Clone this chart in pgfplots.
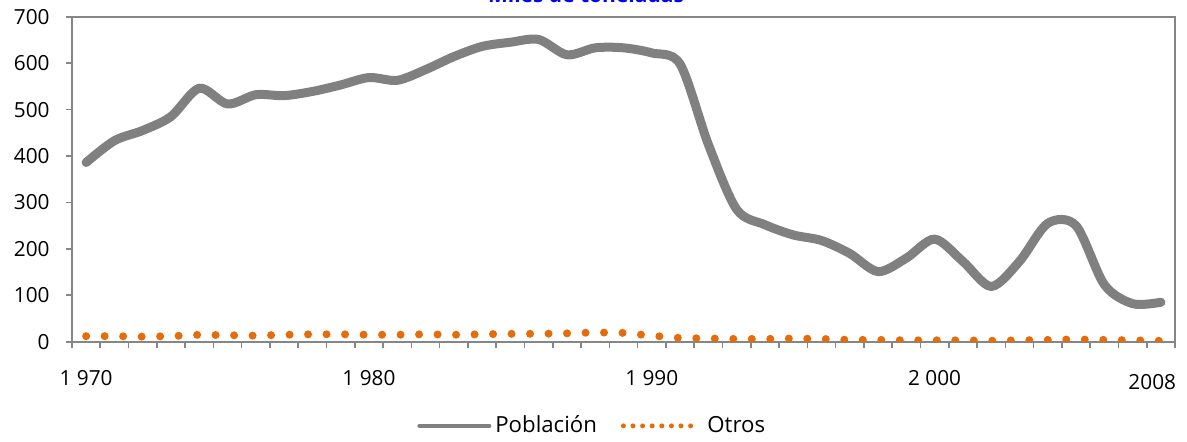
\documentclass[border=0pt]{standalone}
\usepackage{pgfplots}
\pgfplotsset{compat=1.18}
\usepackage{fontspec}
\setmainfont{Open Sans}
\definecolor{pobgray}{HTML}{808080}
\definecolor{framegray}{HTML}{868686}
\definecolor{otrosorange}{HTML}{E46C0A}
\begin{document}
\begin{tikzpicture}
\begin{axis}[
  at={(36pt,49.65pt)}, anchor=south west,
  scale only axis, width=551.5pt, height=162.5pt,
  xmin=1969.5, xmax=2008.5, ymin=0, ymax=700,
  clip mode=individual,
  axis line style={framegray, line width=0.8pt},
  every tick/.style={framegray, line width=0.8pt},
  tick align=outside,
  xtick pos=bottom, ytick pos=left,
  xtick={1970,1980,1990,2000},
  xticklabels={1 970,1 980,1 990,2 000},
  major x tick style={draw=none},
  minor xtick={1969.5,1970.5,1971.5,1972.5,1973.5,1974.5,1975.5,1976.5,1977.5,1978.5,1979.5,1980.5,1981.5,1982.5,1983.5,1984.5,1985.5,1986.5,1987.5,1988.5,1989.5,1990.5,1991.5,1992.5,1993.5,1994.5,1995.5,1996.5,1997.5,1998.5,1999.5,2000.5,2001.5,2002.5,2003.5,2004.5,2005.5,2006.5,2007.5,2008.5},
  minor tick length=3.3pt,
  major tick length=3pt,
  ytick={0,100,200,300,400,500,600,700},
  yticklabels={0,100,200,300,400,500,600,700},
  xticklabel style={font=\fontsize{10.4}{12}\selectfont, anchor=center, inner sep=0pt, yshift=-15pt},
  yticklabel style={font=\fontsize{10.4}{12}\selectfont, anchor=east, inner sep=0pt, xshift=-8pt},
  legend style={at={(axis description cs:0.4726,-0.259)}, anchor=center, draw=none, fill=none,
    legend columns=2, font=\fontsize{11.1}{13}\selectfont,
    /tikz/every even column/.append style={column sep=10pt}},
  legend cell align=left,
]
\addplot[pobgray, line width=4.5pt, smooth, line cap=round, line join=round,
  legend image code/.code={\draw[pobgray, line width=2pt, line cap=round] (0pt,0pt) -- (35pt,0pt);}]
coordinates {
(1970,386) (1971,433) (1972,455) (1973,485) (1974,546) (1975,512) (1976,532) (1977,530)
(1978,539) (1979,553) (1980,569) (1981,563) (1982,586) (1983,614) (1984,636) (1985,645)
(1986,651) (1987,618) (1988,633) (1989,633) (1990,622) (1991,598) (1992,425) (1993,285)
(1994,252) (1995,230) (1996,218) (1997,190) (1998,151) (1999,180) (2000,221) (2001,173)
(2002,119) (2003,173) (2004,255) (2005,250) (2006,123) (2007,82) (2008,85)
};
\addlegendentry{Población}
\addplot[otrosorange, line width=4pt, line cap=round, dash pattern=on 0pt off 9.25pt,
  legend image code/.code={\draw[otrosorange, line width=2.5pt, line cap=round, dash pattern=on 0pt off 4.8pt] (0pt,0pt) -- (34pt,0pt); \path (38pt,0pt);}]
coordinates {
(1970,12) (1971,12) (1972,11) (1973,12) (1974,15) (1975,14) (1976,13) (1977,15)
(1978,16) (1979,16) (1980,15) (1981,15) (1982,16) (1983,15) (1984,16) (1985,17)
(1986,17) (1987,18) (1988,20) (1989,19) (1990,13) (1991,8) (1992,7) (1993,6)
(1994,6) (1995,7) (1996,6) (1997,4) (1998,4) (1999,3) (2000,3) (2001,3)
(2002,2) (2003,3) (2004,4) (2005,5) (2006,4) (2007,3) (2008,2)
};
\addlegendentry{Otros}
\draw[framegray, line width=0.8pt] (rel axis cs:0,1) -- (rel axis cs:1,1) -- (rel axis cs:1,0);
\node[font=\fontsize{10.4}{12}\selectfont, inner sep=0pt, anchor=center] at ([xshift=-4.3pt,yshift=-20.1pt]axis cs:2008,0) {2008};
\end{axis}
\node[overlay, font=\bfseries\fontsize{10.5}{12}\selectfont, text=blue, inner sep=0pt, anchor=base] at (293pt,219.35pt) {Miles de toneladas};
\pgfresetboundingbox
\path[use as bounding box] (0,0) rectangle (593.5pt,220.5pt);
\end{tikzpicture}
\end{document}
